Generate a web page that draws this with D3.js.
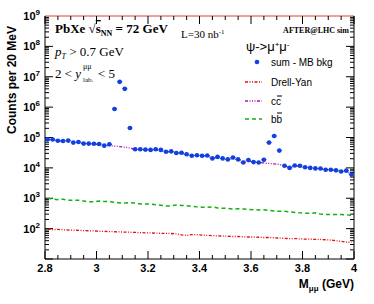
<!DOCTYPE html>
<html>
<head>
<meta charset="utf-8">
<script src="https://cdn.jsdelivr.net/npm/d3@7"></script>
<style>
  body { margin: 0; background: #fff; }
  svg text { font-family: "Liberation Sans", Arial, sans-serif; }
</style>
</head>
<body>
<div id="chart"></div>
<script>
// bin centres (GeV), 20 MeV bins
const mass = [2.81, 2.83, 2.85, 2.87, 2.89, 2.91, 2.93, 2.95, 2.97, 2.99,
  3.01, 3.03, 3.05, 3.07, 3.09, 3.11, 3.13, 3.15, 3.17, 3.19,
  3.21, 3.23, 3.25, 3.27, 3.29, 3.31, 3.33, 3.35, 3.37, 3.39,
  3.41, 3.43, 3.45, 3.47, 3.49, 3.51, 3.53, 3.55, 3.57, 3.59,
  3.61, 3.63, 3.65, 3.67, 3.69, 3.71, 3.73, 3.75, 3.77, 3.79,
  3.81, 3.83, 3.85, 3.87, 3.89, 3.91, 3.93, 3.95, 3.97, 3.99];

const sumMB = [87000, 86000, 78000, 77000, 79000, 68000, 71000, 63000, 63000, 62000,
  61000, 54000, 60000, 870000, 6800000, 4000000, 205000, 41000, 41000, 40000,
  39000, 41000, 39000, 34000, 35000, 31000, 31500, 28000, 25000, 26000,
  25000, 25500, 20500, 23000, 20500, 19000, 22000, 19000, 15000, 18000,
  15500, 15000, 18500, 68000, 112000, 37000, 11800, 10000, 12000, 11700,
  10500, 10000, 9600, 9500, 8700, 8700, 8300, 7600, 8100, 6000];

const ccbar = [85000, 83000, 79000, 76000, 75000, 70000, 68000, 64000, 62000, 60000,
  58000, 55000, 54000, 52000, 50000, 48000, 45000, 41000, 40000, 39000,
  38500, 38000, 37000, 34000, 33500, 31000, 30000, 28000, 26000, 25500,
  25000, 24500, 21000, 22000, 20500, 19500, 20000, 18500, 16000, 17000,
  15500, 15000, 14500, 14000, 13500, 13000, 11500, 10500, 11500, 11200,
  10300, 9800, 9500, 9300, 8700, 8500, 8200, 7600, 7800, 6200];

const bbbar = [1000, 940, 900, 930, 860, 860, 860, 810, 760, 760,
  810, 780, 770, 740, 700, 700, 720, 700, 650, 650,
  640, 610, 590, 560, 560, 600, 580, 570, 540, 520,
  510, 500, 520, 480, 470, 460, 440, 450, 440, 430,
  420, 410, 420, 400, 380, 370, 370, 360, 340, 330,
  320, 320, 330, 300, 290, 295, 290, 290, 285, 275];

const drellYan = [95, 93, 94, 92, 90, 89, 88, 86, 85, 84,
  82, 81, 80, 79, 78, 77, 76, 75, 74, 73,
  72, 71, 70, 70, 69, 67, 62, 60, 63, 63,
  61, 60, 59, 58, 57, 56, 55, 55, 54, 53,
  53, 52, 51, 51, 50, 49, 48, 47, 47, 46,
  45, 45, 44, 44, 43, 42, 40, 38, 36, 35];

const xTicks = [2.8, 3, 3.2, 3.4, 3.6, 3.8, 4];
const yExps = [2, 3, 4, 5, 6, 7, 8, 9];

const W = 374, H = 304;
const padL = 45, padR = 354, padT = 16, padB = 259;

const svg = d3.select("#chart").append("svg")
  .attr("width", W).attr("height", H);
svg.append("rect").attr("width", W).attr("height", H).attr("fill", "#fff");

const x = d3.scaleLinear().domain([2.8, 4]).range([padL, padR]);
const y = d3.scaleLog().domain([10, 1e9]).range([padB, padT]);

// frame
svg.append("path")
  .attr("d", `M${padL},${padT}V${padB}H${padR}V${padT}`)
  .attr("fill", "none").attr("stroke", "#000").attr("stroke-width", 1);
svg.append("line").attr("x1", padL).attr("x2", padR).attr("y1", padT).attr("y2", padT)
  .attr("stroke", "#d04040").attr("stroke-width", 1);

// x ticks (bottom + top), inward
const xMinor = d3.range(2.8, 4.0001, 0.05);
xMinor.forEach((v) => {
  const major = xTicks.some((t) => Math.abs(t - v) < 1e-6);
  const len = major ? 8 : 4;
  svg.append("line").attr("x1", x(v)).attr("x2", x(v))
    .attr("y1", padB).attr("y2", padB - len).attr("stroke", "#000");
  svg.append("line").attr("x1", x(v)).attr("x2", x(v))
    .attr("y1", padT).attr("y2", padT + len).attr("stroke", "#000");
});
xTicks.forEach((v) => {
  svg.append("text").attr("x", x(v)).attr("y", padB + 13)
    .attr("text-anchor", "middle").style("font-size", "11px").style("font-weight", "bold")
    .text(v);
});

// y ticks (left + right), log minor
for (let e = 1; e < 9; e++) {
  for (let m = 1; m < 10; m++) {
    const v = m * Math.pow(10, e);
    const len = m === 1 ? 8 : 4;
    svg.append("line").attr("x1", padL).attr("x2", padL + len)
      .attr("y1", y(v)).attr("y2", y(v)).attr("stroke", "#000");
    svg.append("line").attr("x1", padR).attr("x2", padR - len)
      .attr("y1", y(v)).attr("y2", y(v)).attr("stroke", "#000");
  }
}
yExps.forEach((e) => {
  const t = svg.append("text").attr("x", 40).attr("y", y(Math.pow(10, e)) + 4)
    .attr("text-anchor", "end").style("font-size", "11px").style("font-weight", "bold");
  t.append("tspan").text("10");
  t.append("tspan").attr("dy", -5).style("font-size", "8px").text(e);
});

// axis titles
svg.append("text").attr("transform", "translate(16,80) rotate(-90)")
  .attr("text-anchor", "middle").style("font-size", "12px").style("font-weight", "bold")
  .text("Counts per 20 MeV");
const xt = svg.append("text").attr("x", padR).attr("y", padB + 29)
  .attr("text-anchor", "end").style("font-size", "12px").style("font-weight", "bold");
xt.append("tspan").text("M");
xt.append("tspan").attr("dy", 3).style("font-size", "8px").text("μμ");
xt.append("tspan").attr("dy", -3).text(" (GeV)");

// curves
const line = (vals) => d3.line().x((d, i) => x(mass[i])).y((d) => y(d))(vals);
svg.append("path").attr("d", line(drellYan)).attr("fill", "none")
  .attr("stroke", "#e01010").attr("stroke-width", 1.3).attr("stroke-dasharray", "3,1.5,1,1.5,1,1.5");
svg.append("path").attr("d", line(bbbar)).attr("fill", "none")
  .attr("stroke", "#10b010").attr("stroke-width", 1.5).attr("stroke-dasharray", "4,3");
svg.append("path").attr("d", line(ccbar)).attr("fill", "none")
  .attr("stroke", "#b010b0").attr("stroke-width", 1.3).attr("stroke-dasharray", "3,1.5,1,1.5,1,1.5,1,1.5");

// data points
const pts = svg.append("g");
mass.forEach((m, i) => {
  pts.append("line").attr("x1", x(m - 0.01)).attr("x2", x(m + 0.01))
    .attr("y1", y(sumMB[i])).attr("y2", y(sumMB[i]))
    .attr("stroke", "#1040e0").attr("stroke-width", 1);
  pts.append("circle").attr("cx", x(m)).attr("cy", y(sumMB[i])).attr("r", 2.3)
    .attr("fill", "#1040e0");
});

// annotations
const serif = "'Liberation Serif', 'Times New Roman', serif";
const t1 = svg.append("text").attr("x", 55).attr("y", 33)
  .style("font-family", serif).style("font-size", "13px").style("font-weight", "bold");
t1.append("tspan").text("PbXe ");
t1.append("tspan").text("√").style("font-weight", "normal");
t1.append("tspan").text("s").style("text-decoration", "overline");
t1.append("tspan").attr("dy", 3).style("font-size", "8px").text("NN");
t1.append("tspan").attr("dy", -3).text(" = 72 GeV");

const t2 = svg.append("text").attr("x", 181).attr("y", 38)
  .style("font-family", serif).style("font-size", "11px");
t2.append("tspan").text("L=30 nb");
t2.append("tspan").attr("dy", -4).style("font-size", "7px").text("-1");

svg.append("text").attr("x", 349).attr("y", 33).attr("text-anchor", "end")
  .style("font-family", serif).style("font-size", "8px").style("font-weight", "bold")
  .text("AFTER@LHC sim");

const t3 = svg.append("text").attr("x", 55).attr("y", 56)
  .style("font-family", serif).style("font-size", "13px");
t3.append("tspan").style("font-style", "italic").text("p");
t3.append("tspan").attr("dy", 3).style("font-size", "8px").style("font-style", "italic").text("T");
t3.append("tspan").attr("dy", -3).text(" > 0.7 GeV");

// 2 < y^μμ_lab. < 5, pieces placed separately
svg.append("text").attr("x", 55).attr("y", 78)
  .style("font-family", serif).style("font-size", "13px")
  .html("2 &lt; <tspan font-style='italic'>y</tspan>");
svg.append("text").attr("x", 83).attr("y", 69)
  .style("font-family", serif).style("font-size", "8px").text("μμ");
svg.append("text").attr("x", 83).attr("y", 82)
  .style("font-family", serif).style("font-size", "7px").text("lab.");
svg.append("text").attr("x", 98).attr("y", 78)
  .style("font-family", serif).style("font-size", "13px").text("< 5");

const t5 = svg.append("text").attr("x", 246).attr("y", 51).style("font-size", "13px");
t5.append("tspan").text("ψ->μ");
t5.append("tspan").attr("dy", -4).style("font-size", "8px").text("+");
t5.append("tspan").attr("dy", 4).text("μ");
t5.append("tspan").attr("dy", -4).style("font-size", "8px").text("-");

// legend
const lx = 245, lt = 271;
const legY = [66, 86, 105, 123];
svg.append("circle").attr("cx", 257).attr("cy", legY[0] - 4).attr("r", 2.3).attr("fill", "#1040e0");
svg.append("line").attr("x1", lx).attr("x2", lx + 17).attr("y1", legY[1] - 4).attr("y2", legY[1] - 4)
  .attr("stroke", "#e01010").attr("stroke-width", 1.3).attr("stroke-dasharray", "3,1.5,1,1.5,1,1.5");
svg.append("line").attr("x1", lx).attr("x2", lx + 17).attr("y1", legY[2] - 4).attr("y2", legY[2] - 4)
  .attr("stroke", "#b010b0").attr("stroke-width", 1.3).attr("stroke-dasharray", "3,1.5,1,1.5,1,1.5,1,1.5");
svg.append("line").attr("x1", lx).attr("x2", lx + 17).attr("y1", legY[3] - 4).attr("y2", legY[3] - 4)
  .attr("stroke", "#10b010").attr("stroke-width", 1.5).attr("stroke-dasharray", "4,3");
["sum - MB bkg", "Drell-Yan"].forEach((s, i) => {
  svg.append("text").attr("x", lt).attr("y", legY[i]).style("font-size", "10px").text(s);
});
svg.append("text").attr("x", lt).attr("y", legY[2]).style("font-size", "10px").text("cc");
svg.append("line").attr("x1", lt + 6).attr("x2", lt + 11).attr("y1", legY[2] - 9).attr("y2", legY[2] - 9)
  .attr("stroke", "#000").attr("stroke-width", 1);
svg.append("text").attr("x", lt).attr("y", legY[3]).style("font-size", "10px").text("bb");
svg.append("line").attr("x1", lt + 6).attr("x2", lt + 11).attr("y1", legY[3] - 10).attr("y2", legY[3] - 10)
  .attr("stroke", "#000").attr("stroke-width", 1);
</script>
</body>
</html>
